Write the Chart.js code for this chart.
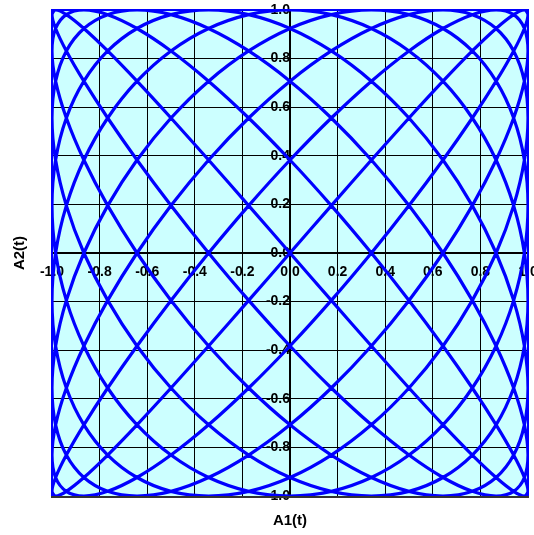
<!DOCTYPE html>
<html>
<head>
<meta charset="utf-8">
<script src="https://cdn.jsdelivr.net/npm/chart.js@4/dist/chart.umd.min.js"></script>
<style>
  html, body { margin: 0; padding: 0; background: #ffffff; }
  #wrap { width: 534px; height: 535px; position: relative; }
</style>
</head>
<body>
<div id="wrap"><canvas id="c"></canvas></div>
<script>
// A1(t) samples over one of its cycles (t step 1.25 deg, 36 samples per A1 cycle)
const a1Samples = [0, 0.1736, 0.342, 0.5, 0.6428, 0.766, 0.866, 0.9397, 0.9848, 1,
  0.9848, 0.9397, 0.866, 0.766, 0.6428, 0.5, 0.342, 0.1736,
  0, -0.1736, -0.342, -0.5, -0.6428, -0.766, -0.866, -0.9397, -0.9848, -1,
  -0.9848, -0.9397, -0.866, -0.766, -0.6428, -0.5, -0.342, -0.1736];
// A2(t) samples over one of its cycles (same t step, 32 samples per A2 cycle)
const a2Samples = [0, 0.1951, 0.3827, 0.5556, 0.7071, 0.8315, 0.9239, 0.9808, 1,
  0.9808, 0.9239, 0.8315, 0.7071, 0.5556, 0.3827, 0.1951,
  0, -0.1951, -0.3827, -0.5556, -0.7071, -0.8315, -0.9239, -0.9808, -1,
  -0.9808, -0.9239, -0.8315, -0.7071, -0.5556, -0.3827, -0.1951];
// one full period: 8 cycles of A1 = 9 cycles of A2 = 288 samples
const sampleCount = 289;
const tickValues = [-1.0, -0.8, -0.6, -0.4, -0.2, 0.0, 0.2, 0.4, 0.6, 0.8, 1.0];
const tickLabels = ['-1.0', '-0.8', '-0.6', '-0.4', '-0.2', '0.0', '0.2', '0.4', '0.6', '0.8', '1.0'];
const xTitle = 'A1(t)';
const yTitle = 'A2(t)';

const points = [];
for (let k = 0; k < sampleCount; k++) {
  points.push({ x: a1Samples[k % a1Samples.length], y: a2Samples[k % a2Samples.length] });
}

function labelFor(v) {
  let best = 0, bd = Infinity;
  tickValues.forEach((tv, i) => { const d = Math.abs(tv - v); if (d < bd) { bd = d; best = i; } });
  return tickLabels[best];
}

const tickFont = { family: 'Arial, "Liberation Sans", sans-serif', weight: 'bold', size: 14 };

const plotBg = {
  id: 'plotBg',
  beforeDraw(chart) {
    const { ctx, chartArea: a } = chart;
    ctx.save();
    ctx.fillStyle = '#ccffff';
    ctx.fillRect(a.left, a.top, a.right - a.left, a.bottom - a.top);
    ctx.restore();
  },
  afterDraw(chart) {
    const { ctx, chartArea: a } = chart;
    ctx.save();
    ctx.lineWidth = 2;
    ctx.strokeStyle = '#0000ff';
    ctx.beginPath();
    ctx.moveTo(a.left, a.bottom);
    ctx.lineTo(a.left, a.top);
    ctx.lineTo(a.right, a.top);
    ctx.lineTo(a.right, a.bottom);
    ctx.stroke();
    ctx.strokeStyle = '#333333';
    ctx.beginPath();
    ctx.moveTo(a.left - 1, a.bottom + 1);
    ctx.lineTo(a.right + 1, a.bottom + 1);
    ctx.stroke();
    ctx.fillStyle = '#000';
    ctx.font = 'bold 15px Arial, "Liberation Sans", sans-serif';
    ctx.textAlign = 'center';
    ctx.textBaseline = 'middle';
    ctx.fillText(xTitle, (a.left + a.right) / 2, 521);
    ctx.translate(20, (a.top + a.bottom) / 2);
    ctx.rotate(-Math.PI / 2);
    ctx.fillText(yTitle, 0, 0);
    ctx.restore();
  }
};

const gridCfg = {
  color: '#000000',
  lineWidth: (ctx) => (ctx.tick && ctx.tick.value === 0 ? 2 : 1),
  tickLength: 8,
  drawTicks: true
};

const noPad = (s) => { s.paddingLeft = 0; s.paddingRight = 0; s.paddingTop = 0; s.paddingBottom = 0; };

new Chart(document.getElementById('c'), {
  type: 'scatter',
  data: {
    datasets: [{
      data: points,
      showLine: true,
      borderColor: '#0000ff',
      backgroundColor: '#0000ff',
      borderWidth: 3.2,
      pointRadius: 0,
      tension: 0.3,
      fill: false
    }]
  },
  options: {
    responsive: true,
    maintainAspectRatio: false,
    animation: false,
    devicePixelRatio: 1,
    layout: { padding: { left: 52, right: 6, top: 10, bottom: 39 } },
    plugins: { legend: { display: false }, tooltip: { enabled: false } },
    scales: {
      x: {
        type: 'linear', min: -1, max: 1,
        position: { y: 0 },
        afterBuildTicks: (s) => { s.ticks = tickValues.map(v => ({ value: v })); },
        afterFit: noPad,
        ticks: { autoSkip: false, maxRotation: 0, font: tickFont, color: '#000', padding: 3, callback: (v) => labelFor(v) },
        grid: gridCfg,
        border: { display: true, color: '#000', width: 2 }
      },
      y: {
        type: 'linear', min: -1, max: 1,
        position: { x: 0 },
        afterBuildTicks: (s) => { s.ticks = tickValues.map(v => ({ value: v })); },
        afterFit: noPad,
        ticks: { autoSkip: false, font: tickFont, color: '#000', padding: 3, callback: (v) => labelFor(v) },
        grid: gridCfg,
        border: { display: true, color: '#000', width: 2 }
      }
    }
  },
  plugins: [plotBg]
});
</script>
</body>
</html>
